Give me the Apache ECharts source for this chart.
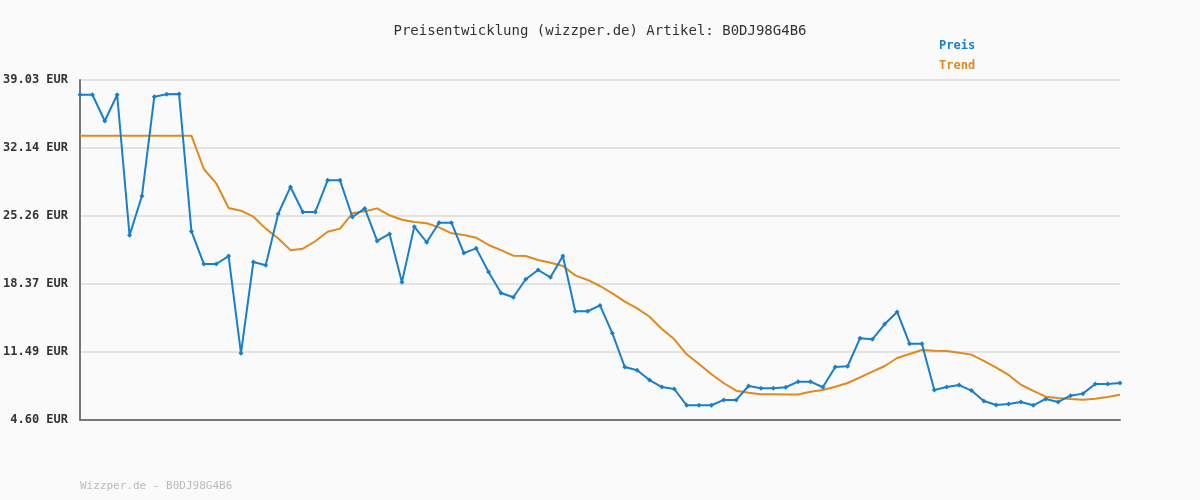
<!DOCTYPE html>
<html>
<head>
<meta charset="utf-8">
<script src="https://cdn.jsdelivr.net/npm/echarts@6/dist/echarts.min.js"></script>
<style>html,body{margin:0;background:#fafafa}#chart{width:1200px;height:500px}</style>
</head>
<body>
<div id="chart"></div>
<script>
// Preis
const preis = [37.54,37.54,34.88,37.54,23.3,27.28,37.34,37.58,37.6,23.7,20.4,20.4,21.2,11.35,20.6,20.27,
  25.46,28.2,25.66,25.66,28.87,28.87,25.16,26.03,22.73,23.44,18.54,24.18,22.6,24.58,24.58,21.5,21.98,19.59,
  17.46,17.03,18.85,19.79,19.05,21.2,15.61,15.61,16.2,13.38,9.97,9.64,8.65,7.94,7.74,6.09,6.09,6.09,6.63,6.63,
  8.04,7.81,7.81,7.92,8.48,8.48,7.92,9.97,10.04,12.87,12.77,14.32,15.54,12.33,12.33,7.64,7.94,8.14,7.58,6.53,
  6.12,6.22,6.43,6.09,6.73,6.43,7.06,7.27,8.25,8.25,8.35];
// Trend
const trend = [33.39,33.39,33.39,33.39,33.39,33.39,33.39,33.39,33.39,33.39,30.02,28.57,26.07,25.8,25.19,23.98,
  23.0,21.8,21.95,22.7,23.67,23.98,25.53,25.73,26.03,25.33,24.88,24.65,24.52,24.11,23.5,23.33,23.06,22.32,
  21.8,21.24,21.2,20.8,20.53,20.2,19.25,18.78,18.17,17.43,16.58,15.91,15.06,13.81,12.77,11.25,10.27,9.23,8.32,
  7.57,7.37,7.2,7.2,7.18,7.18,7.47,7.64,7.97,8.35,8.92,9.49,10.07,10.88,11.28,11.69,11.62,11.59,11.42,11.22,
  10.58,9.9,9.16,8.17,7.54,6.96,6.83,6.73,6.66,6.76,6.93,7.16];
const categories = preis.map((_, i) => String(i + 1));

const font = '"DejaVu Sans Mono", monospace';
const chart = echarts.init(document.getElementById('chart'));
chart.setOption({
  backgroundColor: '#fafafa',
  animation: false,
  title: {
    text: 'Preisentwicklung (wizzper.de) Artikel: B0DJ98G4B6',
    left: 'center', top: 19,
    textStyle: {fontFamily: font, fontSize: 14, fontWeight: 'normal', color: '#333'}
  },
  graphic: [
    {type: 'text', left: 939, top: 40, style: {text: 'Preis', font: 'bold 12px ' + font, fill: '#1a7fcb'}},
    {type: 'text', left: 939, top: 60, style: {text: 'Trend', font: 'bold 12px ' + font, fill: '#e08a1e'}},
    {type: 'text', left: 80, top: 481, style: {text: 'Wizzper.de - B0DJ98G4B6', font: '11px ' + font, fill: '#bbb'}}
  ],
  grid: {left: 80, right: 80, top: 80, bottom: 80},
  xAxis: {
    type: 'category', data: categories, boundaryGap: false,
    axisLine: {lineStyle: {color: '#777', width: 2}},
    axisTick: {show: false}, axisLabel: {show: false}
  },
  yAxis: {
    type: 'value', min: 4.6, max: 39.03, interval: 6.886,
    axisLine: {show: true, lineStyle: {color: '#777', width: 2}},
    axisTick: {show: false},
    splitLine: {lineStyle: {color: '#e3e3e3', width: 2}},
    axisLabel: {
      margin: 12, fontFamily: font, fontSize: 12, color: '#333', fontWeight: 'bold',
      formatter: v => v.toFixed(2) + ' EUR'
    }
  },
  series: [
    {
      name: 'Trend', type: 'line', data: trend, symbol: 'none',
      lineStyle: {color: '#e08a1e', width: 2}, z: 2
    },
    {
      name: 'Preis', type: 'line', data: preis, symbol: 'diamond', symbolSize: 5,
      itemStyle: {color: '#1a7fcb'}, lineStyle: {color: '#1a7fcb', width: 2}, z: 3
    }
  ]
});
</script>
</body>
</html>
